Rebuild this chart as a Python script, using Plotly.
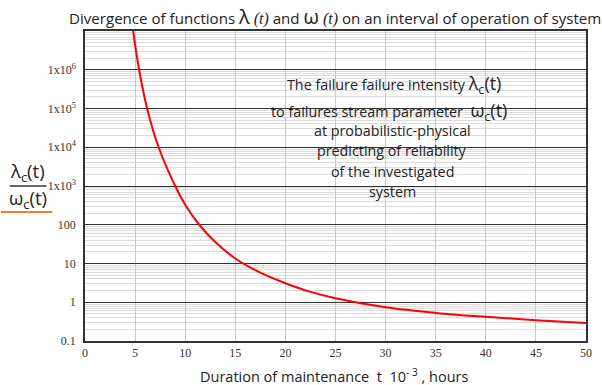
import plotly.graph_objects as go

# ---- data ----
t_hours = [4.8, 5.4, 6.2, 7.35, 9.0, 10.0, 11.4, 13.0, 15.0, 17.5, 20.0, 22.5, 25.0, 30.0, 35.0, 40.0, 45.0, 50.0]
ratio = [1e7, 1e6, 1e5, 1e4, 1000, 330, 100, 36, 13.5, 5.8, 3.1, 1.85, 1.27, 0.74, 0.53, 0.42, 0.345, 0.29]

y_tick_vals = [0.1, 1, 10, 100, 1000, 1e4, 1e5, 1e6, 1e7]
y_tick_text = ["0.1", "1", "10", "100", "1x10<sup>3</sup>", "1x10<sup>4</sup>",
               "1x10<sup>5</sup>", "1x10<sup>6</sup>", ""]
x_tick_vals = [0, 5, 10, 15, 20, 25, 30, 35, 40, 45, 50]

box_lines = [
    "The failure failure intensity <span style='font-size:18px'>λ<sub>c</sub>(t)</span>",
    "to failures stream parameter  <span style='font-size:18px'>ω<sub>c</sub>(t)</span>",
    "at probabilistic-physical",
    "predicting of reliability",
    "of the investigated",
    "system",
]

# ---- layout geometry (pixels) ----
W_FIG, H_FIG = 602, 385
L, R, T, B = 85, 592, 31, 341


def px(x):
    return (x - L) / (R - L)


def py(y):
    return (B - y) / (B - T)


minor_vals = [k * 10 ** d for d in range(-1, 7) for k in range(2, 10)]

fig = go.Figure()
fig.add_trace(go.Scatter(
    x=t_hours, y=ratio, mode="lines",
    line=dict(color="#ff0000", width=2, shape="spline", smoothing=1.0),
    showlegend=False, hoverinfo="skip",
))

tick_font = dict(family="Liberation Serif", size=12, color="#333333")
sans = "Open Sans"
txt_col = "#222222"

fig.update_layout(
    width=W_FIG, height=H_FIG,
    margin=dict(l=L, r=W_FIG - R, t=T, b=H_FIG - B),
    paper_bgcolor="white", plot_bgcolor="white",
    xaxis=dict(
        range=[0, 50], tickmode="array", tickvals=x_tick_vals,
        showgrid=True, gridcolor="#c8c8c8", gridwidth=1,
        showline=True, linecolor="#333333", linewidth=1.5, mirror=True,
        ticks="", tickfont=tick_font, zeroline=False,
    ),
    yaxis=dict(
        type="log", range=[-1, 7], tickmode="array",
        tickvals=y_tick_vals, ticktext=y_tick_text,
        showgrid=True, gridcolor="#333333", gridwidth=1,
        showline=True, linecolor="#333333", linewidth=1.5, mirror=True,
        ticks="", tickfont=tick_font, zeroline=False, ticklabelstandoff=5,
        minor=dict(tickmode="array", tickvals=minor_vals, showgrid=True,
                   gridcolor="#dcdcdc", gridwidth=1, ticks=""),
    ),
)

annotations = []
# title
annotations.append(dict(
    x=px(67), y=py(16), xref="paper", yref="paper", xanchor="left", yanchor="middle",
    showarrow=False,
    text=("Divergence of functions <span style='font-size:20px'>λ</span> "
          "<span style='font-family:Liberation Serif;font-size:16px'><i>(t)</i></span> and "
          "<span style='font-size:20px'>ω</span> "
          "<span style='font-family:Liberation Serif;font-size:16px'><i>(t)</i></span> "
          "on an interval of operation of system"),
    font=dict(family=sans, size=15.1, color=txt_col),
))
# x axis title
annotations.append(dict(
    x=px(337), y=py(375), xref="paper", yref="paper", xanchor="center", yanchor="middle",
    showarrow=False,
    text="Duration of maintenance  t  10<sup>- 3</sup> , hours",
    font=dict(family=sans, size=14.5, color=txt_col),
))
# y axis fraction label
annotations.append(dict(
    x=px(27), y=py(172), xref="paper", yref="paper", xanchor="center", yanchor="middle",
    showarrow=False, text="λ<sub>c</sub>(t)",
    font=dict(family=sans, size=18.5, color=txt_col),
))
annotations.append(dict(
    x=px(27), y=py(199), xref="paper", yref="paper", xanchor="center", yanchor="middle",
    showarrow=False, text="ω<sub>c</sub>(t)",
    font=dict(family=sans, size=18.5, color=txt_col),
))
# box text
line_y = [84, 111, 130, 150, 171, 192]
line_x = [398, 393, 396, 396, 396, 396]
for txt, yy, xx in zip(box_lines, line_y, line_x):
    annotations.append(dict(
        x=px(xx), y=py(yy), xref="paper", yref="paper", xanchor="center", yanchor="middle",
        showarrow=False, text=txt,
        font=dict(family=sans, size=14.3, color=txt_col),
    ))
fig.update_layout(annotations=annotations)

shapes = [
    # white text box covering the grid
    dict(type="rect", xref="paper", yref="paper", x0=px(266), x1=px(533), y0=py(201), y1=py(67),
         fillcolor="white", line=dict(width=0), layer="between"),
    # fraction bar
    dict(type="line", xref="paper", yref="paper", x0=px(9), x1=px(46), y0=py(186), y1=py(186),
         line=dict(color="#333333", width=1.5)),
    # orange underline
    dict(type="line", xref="paper", yref="paper", x0=px(0), x1=px(52), y0=py(212), y1=py(212),
         line=dict(color="#f08020", width=2)),
]
fig.update_layout(shapes=shapes)

fig.write_html("out.html", config={"displayModeBar": False},
               post_script="document.body.style.margin='0px';")
